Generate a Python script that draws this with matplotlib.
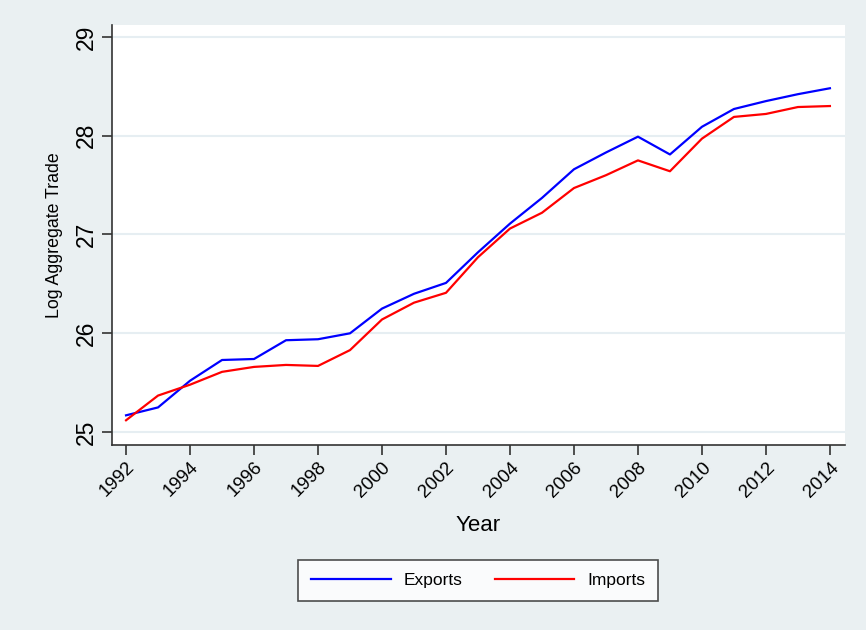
import numpy as np
import matplotlib.pyplot as plt
from matplotlib.lines import Line2D

plt.rcParams['font.family'] = ['Liberation Sans', 'DejaVu Sans']

years = list(range(1992, 2015))
exports = [25.17, 25.25, 25.52, 25.73, 25.74, 25.93, 25.94, 26.00, 26.25, 26.40,
           26.51, 26.82, 27.11, 27.37, 27.66, 27.83, 27.99, 27.81, 28.09, 28.27,
           28.35, 28.42, 28.48]
imports = [25.12, 25.37, 25.48, 25.61, 25.66, 25.68, 25.67, 25.83, 26.14, 26.31,
           26.41, 26.77, 27.06, 27.22, 27.47, 27.60, 27.75, 27.64, 27.97, 28.19,
           28.22, 28.29, 28.30]
yticks = [25, 26, 27, 28, 29]
xticks = list(range(1992, 2015, 2))

bg = '#eaf0f2'
fig = plt.figure(figsize=(8.66, 6.3), dpi=100, facecolor=bg)
ax = fig.add_axes([0.1293, 0.2937, 0.8464, 0.6666])
ax.set_facecolor('white')

ax.plot(years, exports, color='#0000ff', lw=1.6, label='Exports')
ax.plot(years, imports, color='#ff0000', lw=1.6, label='Imports')

ax.set_xlim(1991.56, 2014.47)
ax.set_ylim(24.87, 29.12)
ax.set_yticks(yticks)
ax.set_xticks(xticks)
ax.set_yticklabels([str(v) for v in yticks], rotation=90, va='center', fontsize=16.5)
ax.set_xticklabels([str(v) for v in xticks], rotation=45, ha='right',
                   rotation_mode='anchor', fontsize=13.5)
ax.tick_params(axis='both', direction='out', length=7, width=1.2, color='#333333')
ax.tick_params(axis='y', pad=3)
ax.tick_params(axis='x', pad=3)

ax.grid(axis='y', color='#e6eef2', lw=1.5)
ax.set_axisbelow(True)
for s in ['top', 'right']:
    ax.spines[s].set_visible(False)
for s in ['left', 'bottom']:
    ax.spines[s].set_color('#333333')
    ax.spines[s].set_linewidth(1.2)

ax.set_ylabel('Log Aggregate Trade', fontsize=12.8, labelpad=9)
fig.text(0.552, 0.166, 'Year', fontsize=16, ha='center', va='center')

handles = [Line2D([], [], color='#0000ff', lw=1.6),
           Line2D([], [], color='#ff0000', lw=1.6)]
leg = fig.legend(handles, ['Exports', 'Imports'], loc='center',
                 bbox_to_anchor=(0.552, 0.078), ncol=2, fontsize=12.5,
                 frameon=True, fancybox=False, edgecolor='#222222',
                 handlelength=4.6, handletextpad=0.75, columnspacing=1.85,
                 borderpad=0.75)
leg.get_frame().set_linewidth(1.2)

fig.savefig('out.png', dpi=100, facecolor=bg)
